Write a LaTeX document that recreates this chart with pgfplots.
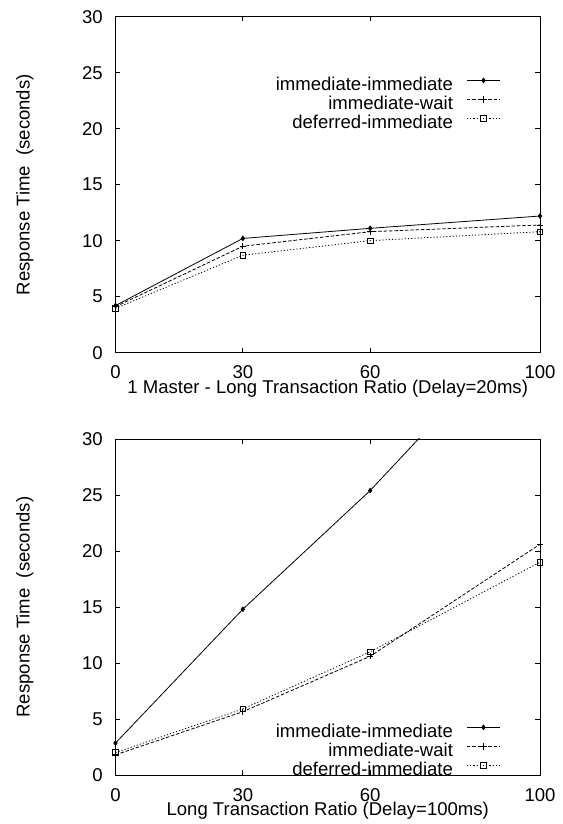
\documentclass[border=0pt]{standalone}
\usepackage{fontspec}
\setmainfont{Liberation Sans}
\usepackage{pgfplots}
\pgfplotsset{compat=1.18}

% gnuplot-like look shared by both panels
\pgfplotsset{
  gp/.style={
    scale only axis, width=318.4pt, height=252pt,
    xmin=0, xmax=100, ymin=0, ymax=30,
    xtick={0,30,60,100}, ytick={0,5,10,15,20,25,30},
    tick align=inside, tick pos=both, major tick length=3.4pt,
    axis line style={line width=0.7pt}, every tick/.style={black, line width=0.6pt},
    font=\fontsize{13.9}{16}\selectfont,
    /pgf/number format/assume math mode=true,
    xticklabel style={anchor=center, yshift=-14.8pt},
    yticklabel style={anchor=east, inner sep=0pt, xshift=-9.4pt},
    ylabel={Response Time\ \ (seconds)},
    ylabel style={at={(axis description cs:0,0.5)}, anchor=center, yshift=68pt},
    xlabel style={at={(axis description cs:0.5,0)}, anchor=center, yshift=-27pt},
    legend plot pos=right, legend cell align=right,
    legend style={draw=none, fill=none, inner sep=0pt, row sep=0pt, column sep=0pt,
      anchor=north east,
      nodes={inner sep=0pt, text height=10.5pt, text depth=3.75pt}},
    legend image code/.code={
      \path (0pt,0pt);
      \draw[mark repeat=2, mark phase=2] plot coordinates {(10.2pt,4pt)(22.6pt,4pt)(35pt,4pt)};
    },
  },
  ii/.style={black, line width=0.6pt, mark=diamond*, mark size=1.7pt, mark options={solid}},
  iw/.style={black, line width=0.6pt, dash pattern=on 2.6pt off 1.4pt, mark=+, mark size=2.4pt, mark options={solid}},
  di/.style={black, line width=0.6pt, dash pattern=on 0.9pt off 1.5pt, mark=square, mark size=2.1pt, mark options={solid, line width=0.5pt}},
}

\begin{document}
\begin{tikzpicture}
\useasboundingbox (0,0) rectangle (422.25pt,618pt);

\begin{axis}[gp, at={(86.6pt,353.5pt)}, anchor=south west,
  xlabel={1 Master - Long Transaction Ratio (Delay=20ms)},
  legend style={at={(0.9074,0.8235)}}]
\addplot[ii] coordinates {(0,4.2)(30,10.2)(60,11.1)(100,12.2)};
\addlegendentry{immediate-immediate}
\addplot[iw] coordinates {(0,4.1)(30,9.5)(60,10.8)(100,11.4)};
\addlegendentry{immediate-wait}
\addplot[di] coordinates {(0,3.95)(30,8.7)(60,10.0)(100,10.8)};
\addlegendentry{deferred-immediate}
\end{axis}

\begin{axis}[gp, at={(86.6pt,36.75pt)}, anchor=south west,
  xlabel={Long Transaction Ratio (Delay=100ms)},
  legend style={at={(0.9074,0.155)}}]
\addplot[ii] coordinates {(0,2.85)(30,14.8)(60,25.4)(100,41.6)};
\addlegendentry{immediate-immediate}
\addplot[iw] coordinates {(0,1.8)(30,5.65)(60,10.6)(100,20.6)};
\addlegendentry{immediate-wait}
\addplot[di] coordinates {(0,2.0)(30,5.9)(60,11.0)(100,19.0)};
\addlegendentry{deferred-immediate}
\end{axis}
\end{tikzpicture}
\end{document}
